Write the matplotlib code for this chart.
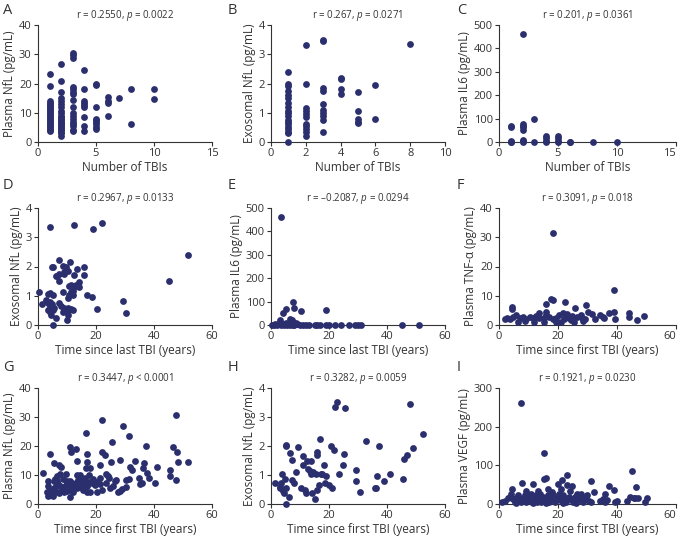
import matplotlib
matplotlib.use("Agg")
import matplotlib.pyplot as plt

plt.rcParams["font.family"] = ["Open Sans", "DejaVu Sans"]
plt.rcParams["mathtext.fontset"] = "custom"
plt.rcParams["mathtext.it"] = "Open Sans:italic"
plt.rcParams["mathtext.rm"] = "Open Sans"

DOT = "#2b2f6e"

# A: number of TBIs vs plasma NfL
a_x = [1]*24 + [2]*23 + [3]*17 + [4]*9 + [5]*9 + [6]*4 + [7] + [8]*2 + [10]*2
a_y = [23.2, 19.2, 14, 13.5, 13, 12.5, 12, 11.5, 11, 10.5, 10, 9.5, 9, 8.5, 8, 7.5, 7, 6.5, 6, 5.5, 5, 4.5, 4, 3.7,
       26.5, 21, 17, 15, 14, 13, 12, 10.5, 10, 9, 8.5, 8, 7.5, 7, 6.5, 6, 5.5, 5, 4.5, 4, 3.5, 3, 2.2,
       30.5, 29.8, 28.7, 18.7, 18, 17, 16.5, 14.5, 12, 10, 9, 8, 7, 6, 5.5, 4, 3.7,
       24.5, 18, 14, 13.5, 12.5, 12, 8.7, 5.5, 3.8,
       19.8, 19.5, 12, 8, 7.5, 7, 6, 5, 4.5,
       15.5, 14, 13.5, 8.8,
       15,
       18, 6.3,
       18, 14.8]

# B: number of TBIs vs exosomal NfL
b_x = [1]*19 + [2]*11 + [3]*10 + [4]*4 + [5]*5 + [6]*2 + [8]
b_y = [2.4, 2.0, 1.9, 1.75, 1.6, 1.5, 1.35, 1.2, 1.05, 1.0, 0.9, 0.75, 0.7, 0.6, 0.5, 0.45, 0.35, 0.3, 0.0,
       3.3, 2.0, 1.15, 1.05, 0.95, 0.85, 0.6, 0.55, 0.45, 0.35, 0.2,
       3.45, 3.5, 1.85, 1.75, 1.3, 1.1, 1.0, 0.9, 0.75, 0.35,
       2.2, 2.15, 1.8, 1.65,
       1.7, 1.05, 0.8, 0.7, 0.65,
       1.95, 0.8,
       3.35]

# C: number of TBIs vs plasma IL6
c_x = [1]*5 + [2]*8 + [3]*2 + [4]*4 + [5]*4 + [6]*2 + [8] + [10]
c_y = [68, 63, 5, 2, 0,
       463, 78, 70, 62, 52, 10, 5, 2,
       98, 2,
       25, 15, 5, 2,
       25, 15, 5, 2,
       2, 0,
       2,
       2]

# D: time since last TBI vs exosomal NfL
d_x = [0.3, 1.5, 4.0, 12.5, 18.8, 22.2, 51.6, 45.2, 29.3, 30.4, 20.5, 18.6, 16.9, 16, 16, 13.4, 12.5, 11.1,
       7.4, 8.5, 9.7, 10.3, 9.1, 8.9, 7.4, 6.6, 6.3, 7.1, 5.1, 4.9, 14, 13.1, 12.3, 11.4, 10.8, 14.2, 11.9,
       11.4, 10.8, 11.9, 10.3, 8.5, 3.4, 4.3, 5.1, 2.8, 3.4, 4.3, 4.8, 4.0, 4.6, 3.6, 4.3, 4.6, 5.1, 5.5,
       6.3, 5.1, 7.4, 8.0, 8.9, 9.7, 10.3, 10.8, 11.4, 11.9, 10.3, 10.0, 8.5]
d_y = [1.14, 0.71, 3.34, 3.43, 3.29, 3.49, 2.4, 1.52, 0.83, 0.42, 0.55, 0.95, 1.03, 1.71, 1.97, 1.92, 1.71, 2.15,
       2.22, 2.03, 1.99, 1.83, 1.8, 1.76, 1.74, 1.68, 1.66, 1.49, 2.0, 1.97, 1.46, 1.37, 1.31, 1.37, 1.34, 1.31, 1.17,
       1.12, 1.03, 1.03, 0.94, 1.12, 1.05, 1.09, 1.01, 0.86, 0.74, 0.8, 0.71, 0.63, 0.57, 0.51, 0.46, 0.34, 0.51, 0.59,
       0.25, 0.0, 0.74, 0.66, 0.57, 0.51, 0.57, 0.51, 0.54, 0.51, 0.34, 0.17, 0.46]

# E: time since last TBI vs plasma IL6
e_x = [3.6, 5.0, 4.1, 3.2, 7.6, 8.1, 10.2, 18.9, 6.7, 7.3, 8.5, 9.0,
       0.5, 1, 1.5, 2, 2.5, 3, 3.5, 4, 4.5, 5, 5.5, 6, 6.5, 7, 7.5, 8, 9, 10, 11, 12, 13,
       15, 16, 17, 19, 20, 22, 24, 27, 29, 30, 31, 45, 51]
e_y = [461, 69, 50, 21, 97, 71, 60, 64, 26, 23, 10, 6,
       2, 0, 4, 1, 6, 3, 0, 5, 2, 8, 1, 3, 0, 4, 2, 1, 3, 0, 2, 1, 0,
       0, 2, 0, 1, 0, 0, 1, 0, 2, 0, 0, 0, 0]

# F: time since first TBI vs plasma TNF-a
f_x = [18.4, 39.1, 17.7, 18.4, 22.5, 15.8, 29.4, 25.8, 4.5, 4.5, 6.5,
       32.7, 34.4, 35.2, 35.5, 37.2, 39.1, 39.4, 43.9, 43.9, 46.7, 49.3, 31.4, 30, 28.6, 27.7, 26.6, 24.9,
       23.8, 22.7, 21.6, 20.4, 19.3, 17.1, 16, 15.1, 13.7, 12.6, 11.5, 10.4, 9.3, 8.2, 7, 5.9, 4.8, 3.7,
       2.6, 2, 15.4, 21, 25.5, 12, 16, 28.3, 29.2, 19.3, 8.7, 18.2, 22.1, 24.3, 23.2, 13.7]
f_y = [31.4, 11.8, 8.8, 8.6, 7.8, 7.1, 6.9, 5.7, 6.2, 5.5, 0.9,
       2, 3.4, 2.9, 2.5, 4.2, 4.6, 2, 4.2, 2.9, 1.7, 3.2, 3.8, 4.3, 1.4, 3.4, 2.9, 3.2,
       2.5, 2.9, 4.2, 3.4, 2.3, 2.9, 3.4, 2.3, 2.5, 3.2, 2.3, 2.9, 2, 2.9, 2.3, 3.4, 2.9, 2,
       2.5, 2, 1.1, 1.1, 1.1, 1.1, 4.6, 2.5, 2, 1.1, 1.5, 2, 2, 1.7, 3.6, 4]

# G: time since first TBI vs plasma NfL
g_x = [1.7, 47.7, 22.1, 29.3, 16.5, 31.3, 25.6, 37.2, 46.4, 48.1, 11, 11.3, 13.1, 16.9, 22.2, 23, 4.2,
       48.3, 51.8, 13.3, 17, 25.3, 28.4, 33.3, 36.7, 41, 5.6, 7.4, 8, 21.3, 16.5, 18.1, 31.8, 32.5, 36.3,
       45.6, 45.6, 47.5, 37.6, 38.4, 40.5, 34.7, 35.9, 35, 31.5, 30.4, 27, 26.4, 23.6, 24.1, 24.5, 21.3,
       25.9, 27.6, 28.4, 29, 30.4, 24.7, 23.3, 21.5, 20.4, 19.6, 18.5, 17.7, 16.9, 16.2, 15, 14.5, 13.9,
       13.5, 12.8, 12, 11.4, 10.8, 9.9, 9.3, 8.8, 8.2, 7.6, 6.9, 6.7, 6.3, 5.4, 4.8, 4.2, 3.6, 3.3, 3.1,
       5.1, 11, 14.8, 17, 18.1, 20.4, 13.3, 14.5, 16.2, 9.7, 7.6, 5.4, 6, 6.5, 8.5, 9.9, 11, 11.6, 12.2,
       13.3, 12.2, 9.9, 8.8, 6.5, 4.2, 3.6, 7.1, 21.9, 19.6, 18.8, 17.7, 16.2, 14.5, 17, 15.6]
g_y = [10.6, 30.6, 29.1, 26.9, 24.6, 23.4, 21.3, 20.1, 19.7, 18.1, 19.5, 18.1, 19, 17.4, 18.1, 16.9, 17.1,
       14.4, 14.4, 15, 14.4, 14.6, 15.2, 14.9, 14.1, 12.6, 14.1, 13.5, 12.6, 13.3, 12.3, 12.3, 12.9, 11.8, 12.3,
       11.8, 9.8, 8.3, 10.6, 8.9, 7.4, 8.9, 7.2, 6.9, 8.7, 8.3, 8.3, 7.8, 10.3, 9.8, 9.1, 9.1,
       6.1, 4.1, 4.6, 5.3, 6, 5.5, 7.2, 7, 7.5, 6.4, 7.2, 7.5, 6.6, 6.1, 5.7, 6.9, 8.3,
       7.5, 6.1, 5.5, 4.9, 6.4, 7.2, 6.1, 5.5, 4.9, 6.1, 6.9, 7.8, 6.1, 5.5, 4.3, 4.9, 6.1, 8, 4.1,
       2.6, 2.3, 5.7, 4.1, 4.1, 4.3, 10.1, 8.7, 7.2, 10.3, 10.3, 8, 8.7, 9.5, 8.7, 8, 7.8, 7.2, 6.6,
       5.5, 4.3, 4.6, 4.1, 4.3, 3.2, 2.6, 3.8, 4.9, 7.2, 8.7, 10.1, 8.9, 10.1, 6.1, 4.9]

# H: time since first TBI vs exosomal NfL
h_x = [1.3, 3, 3.6, 3.8, 3.2, 4.1, 4.4, 5, 4.8, 5, 5.2, 5, 6.1, 6.5, 7.1, 7.3, 7.9, 8.5, 9.4, 10.2, 11,
       11.1, 11.7, 11.9, 12.5, 12.9, 13.3, 13.7, 13.7, 14, 14.5, 15.2, 15.4, 16, 16, 16, 16.6, 16.9, 17.1,
       17.7, 18.3, 18.5, 18.9, 20, 20.6, 21, 21.8, 22.1, 22.9, 23.5, 24.7, 25.3, 25.6, 29.3, 29.3, 30.7,
       32.6, 35.7, 36.3, 36.5, 37.1, 38.8, 40.9, 45.5, 45.8, 47, 48.1, 48.8, 52.3]
h_y = [0.73, 0.59, 0.71, 1.02, 0.54, 0.45, 0.37, 0.56, 0.86, 2.0, 2.02, 0, 0.25, 1.77, 1.51, 0.82, 0.73,
       1.11, 1.97, 0.56, 1.66, 1.36, 0.5, 0.39, 1.47, 1.2, 1.13, 1.47, 1.02, 0.37, 1.11, 0.17, 1.02, 1.8,
       1.7, 0.48, 0.65, 2.23, 1.05, 1.05, 1.34, 0.71, 0.97, 0.65, 2.0, 0.56, 1.85, 3.36, 3.51, 1.02, 1.34,
       1.71, 3.31, 1.17, 0.79, 0.42, 2.16, 0.56, 0.56, 0.97, 2.0, 0.79, 1.02, 0.86, 1.54, 1.7, 3.45, 1.93, 2.41]

# I: time since first TBI vs plasma VEGF
i_x = [7.3, 15.4, 15.8, 15.2, 23.2, 45, 31.3, 7.9, 11.5, 19.9, 21.3, 21, 23.2, 24.9, 37.2, 39.1, 46.5,
       4.5, 9.3, 13.2, 16.5, 18, 21.6, 24, 32.2, 35.9, 44.5, 45.6, 46.1, 47, 43.4, 39.2, 49.5, 50,
       1.1, 2, 3.1, 3.7, 4.2, 4.8, 5.4, 5.9, 6.5, 7, 7.6, 8.2, 8.7, 9, 9.8, 10.4, 11, 11.3, 12.1, 12.4,
       12.8, 13.5, 14, 14.3, 14.9, 16, 16.5, 17.1, 17.7, 18.2, 18.8, 19.1, 19.6, 20.2, 20.7, 22.1, 22.7,
       23.6, 24.4, 25.1, 25.8, 26.6, 27.2, 27.7, 28, 28.5, 29.4, 29.9, 30.5, 31.1, 34.4, 35.2, 36.1, 36.6,
       40, 11.5, 16, 21.6, 26, 5.9]
i_y = [261, 132, 68, 64, 75, 86, 59, 55, 51, 51, 62, 40, 49, 47, 46, 36, 45,
       38, 33, 33, 40, 32, 23, 33, 30, 27, 19, 15, 15, 15, 9, 6, 6, 15,
       6, 8, 15, 19, 25, 13, 6, 16, 23, 10, 4, 15, 23, 6, 19, 10, 27, 6, 16, 23,
       6, 15, 25, 6, 19, 10, 23, 6, 16, 23, 10, 4, 16, 27, 10, 15, 6,
       19, 13, 6, 19, 25, 10, 25, 16, 6, 13, 23, 8, 6, 8, 13, 6, 10,
       8, 2, 2, 2, 2, 2]

panels = [
    ("A", a_x, a_y, (0, 15), [0, 5, 10, 15], (0, 40), [0, 10, 20, 30, 40],
     "Number of TBIs", "Plasma NfL (pg/mL)", r"r = 0.2550, $\it{p}$ = 0.0022"),
    ("B", b_x, b_y, (0, 10), [0, 2, 4, 6, 8, 10], (0, 4), [0, 1, 2, 3, 4],
     "Number of TBIs", "Exosomal NfL (pg/mL)", r"r = 0.267, $\it{p}$ = 0.0271"),
    ("C", c_x, c_y, (0, 15), [0, 5, 10, 15], (0, 500), [0, 100, 200, 300, 400, 500],
     "Number of TBIs", "Plasma IL6 (pg/mL)", r"r = 0.201, $\it{p}$ = 0.0361"),
    ("D", d_x, d_y, (0, 60), [0, 20, 40, 60], (0, 4), [0, 1, 2, 3, 4],
     "Time since last TBI (years)", "Exosomal NfL (pg/mL)", r"r = 0.2967, $\it{p}$ = 0.0133"),
    ("E", e_x, e_y, (0, 60), [0, 20, 40, 60], (0, 500), [0, 100, 200, 300, 400, 500],
     "Time since last TBI (years)", "Plasma IL6 (pg/mL)", "r = \u20130.2087, $\\it{p}$ = 0.0294"),
    ("F", f_x, f_y, (0, 60), [0, 20, 40, 60], (0, 40), [0, 10, 20, 30, 40],
     "Time since first TBI (years)", "Plasma TNF-\u03b1 (pg/mL)", r"r = 0.3091, $\it{p}$ = 0.018"),
    ("G", g_x, g_y, (0, 60), [0, 20, 40, 60], (0, 40), [0, 10, 20, 30, 40],
     "Time since first TBI (years)", "Plasma NfL (pg/mL)", r"r = 0.3447, $\it{p}$ < 0.0001"),
    ("H", h_x, h_y, (0, 60), [0, 20, 40, 60], (0, 4), [0, 1, 2, 3, 4],
     "Time since first TBI (years)", "Exosomal NfL (pg/mL)", r"r = 0.3282, $\it{p}$ = 0.0059"),
    ("I", i_x, i_y, (0, 60), [0, 20, 40, 60], (0, 300), [0, 100, 200, 300],
     "Time since first TBI (years)", "Plasma VEGF (pg/mL)", r"r = 0.1921, $\it{p}$ = 0.0230"),
]

W, H = 680, 536
fig = plt.figure(figsize=(W / 100, H / 100), dpi=100)

col_left = [38, 271, 499]
col_width = [174, 174, 177]
row_top = [25, 208, 388]
row_height = [117, 117, 116]
letter_x = [3, 228, 457]
letter_top = [3, 178, 360]

for k, (letter, xs, ys, xl, xt, yl, yt, xlab, ylab, title) in enumerate(panels):
    r, c = divmod(k, 3)
    left = col_left[c] / W
    bottom = (H - row_top[r] - row_height[r]) / H
    ax = fig.add_axes([left, bottom, col_width[c] / W, row_height[r] / H])
    ax.scatter(xs, ys, s=24, color=DOT, linewidths=0, clip_on=False, zorder=3)
    ax.set_xlim(*xl)
    ax.set_ylim(*yl)
    ax.set_xticks(xt)
    ax.set_yticks(yt)
    for side in ("top", "right"):
        ax.spines[side].set_visible(False)
    for side in ("left", "bottom"):
        ax.spines[side].set_linewidth(0.8)
        ax.spines[side].set_color("#333333")
    ax.tick_params(labelsize=8, length=3, width=0.8, color="#333333", pad=1.5, labelcolor="#333333")
    ax.set_xlabel(xlab, fontsize=8.5, labelpad=1, color="#333333")
    ax.set_ylabel(ylab, fontsize=8.5, labelpad=2, color="#333333")
    ax.set_title(title, fontsize=7, pad=5, color="#333333")
    if c == 2:
        ax.get_xticklabels()[-1].set_horizontalalignment("right")
    fig.text(letter_x[c] / W, 1 - letter_top[r] / H, letter, fontsize=10.5,
             va="top", ha="left", color="#333333")

fig.savefig("out.png", dpi=100)
